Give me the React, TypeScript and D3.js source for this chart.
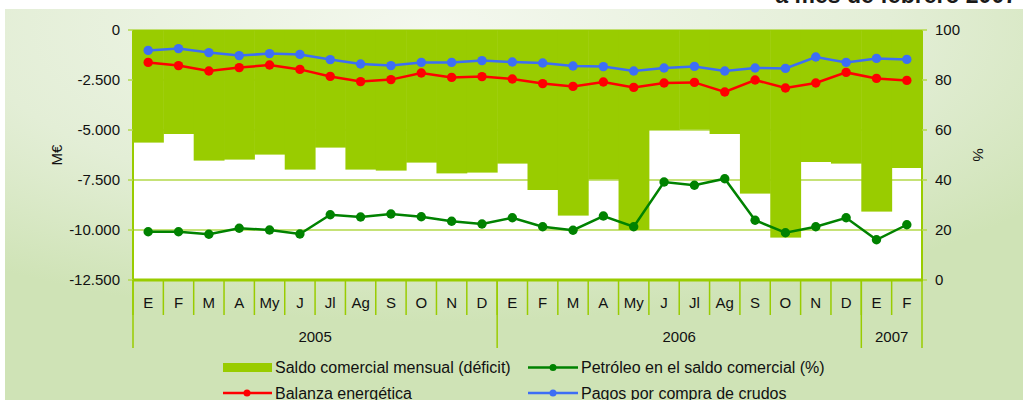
import React from "react";
import * as d3 from "d3";

const months = ["E","F","M","A","My","J","Jl","Ag","S","O","N","D","E","F","M","A","My","J","Jl","Ag","S","O","N","D","E","F"];
const years = [
  { label: "2005", start: 0, end: 12 },
  { label: "2006", start: 12, end: 24 },
  { label: "2007", start: 24, end: 26 },
];
const saldo = [-5630,-5200,-6530,-6480,-6230,-6980,-5880,-6980,-7030,-6630,-7170,-7130,-6680,-8000,-9280,-7470,-10000,-5000,-4980,-5200,-8180,-10380,-6600,-6680,-9080,-6900];
const balanza = [-1620,-1780,-2050,-1880,-1750,-1970,-2320,-2580,-2480,-2150,-2370,-2330,-2450,-2680,-2820,-2600,-2870,-2650,-2620,-3100,-2500,-2900,-2650,-2120,-2420,-2520];
const pagos = [-1020,-930,-1130,-1280,-1180,-1220,-1480,-1700,-1780,-1620,-1620,-1530,-1600,-1650,-1800,-1830,-2050,-1900,-1820,-2050,-1900,-1920,-1350,-1620,-1420,-1470];
const petroleo = [19.3,19.3,18.3,20.7,20,18.4,26.1,25.2,26.4,25.3,23.5,22.4,24.9,21.3,19.9,25.6,21.3,39.2,37.9,40.5,23.9,18.9,21.3,24.9,16.1,22.1];
const leftTicks = [0,-2500,-5000,-7500,-10000,-12500];
const rightTicks = [0,20,40,60,80,100];

const W = 1023, H = 400;
const X0 = 133, X1 = 922, Y0 = 30, Y1 = 280;
const FONT = "'Liberation Sans', Arial, sans-serif";
const BAR = "#99cc00";
const GRID = "#b3d94a";
const AXIS = "#99cc00";

export default function App() {
  const x = d3.scaleBand<number>().domain(months.map((_, i) => i)).range([X0, X1]).paddingInner(0).paddingOuter(0);
  const yL = d3.scaleLinear().domain([-12500, 0]).range([Y1, Y0]);
  const yR = d3.scaleLinear().domain([0, 100]).range([Y1, Y0]);
  const cx = (i: number) => (x(i) as number) + x.bandwidth() / 2;
  const fmt = (v: number) => (v < 0 ? "-" : "") + d3.format(",")(Math.abs(v)).replace(/,/g, ".");

  const lineL = d3.line<number>().x((_, i) => cx(i)).y((d) => yL(d));
  const lineR = d3.line<number>().x((_, i) => cx(i)).y((d) => yR(d));

  const series = [
    { data: balanza, color: "#ff0000", line: lineL, sc: yL },
    { data: pagos, color: "#3d6ef5", line: lineL, sc: yL },
    { data: petroleo, color: "#008200", line: lineR, sc: yR },
  ];

  return (
    <svg width={W} height={H} style={{ position: "absolute", left: 0, top: 0, fontFamily: FONT }}>
      <defs>
        <radialGradient id="bg" cx="0.42" cy="0.05" r="0.75">
          <stop offset="0" stopColor="#f4f8ef" />
          <stop offset="0.6" stopColor="#e3eed6" />
          <stop offset="1" stopColor="#cfe3b6" />
        </radialGradient>
      </defs>
      <rect x={0} y={0} width={W} height={H} fill="#ffffff" />
      <rect x={5} y={9} width={W - 5} height={H - 9} fill="url(#bg)" />
      <text x={1017} y={3} textAnchor="end" fontSize={23} fontWeight="bold" fill="#1a1a1a">a mes de febrero 2007</text>

      {/* plot area */}
      <rect x={X0} y={Y0} width={X1 - X0} height={Y1 - Y0} fill="#ffffff" />
      {leftTicks.filter((t) => t !== -12500).map((t) => (
        <line key={t} x1={X0} x2={X1} y1={yL(t)} y2={yL(t)} stroke={GRID} strokeWidth={1.5} />
      ))}
      {saldo.map((v, i) => (
        <rect key={i} x={x(i)} y={yL(0)} width={x.bandwidth() + 0.5} height={yL(v) - yL(0)} fill={BAR} />
      ))}

      {/* axes */}
      <line x1={X0} x2={X0} y1={Y0} y2={Y1} stroke={AXIS} strokeWidth={2} />
      <line x1={X1} x2={X1} y1={Y0} y2={Y1} stroke={AXIS} strokeWidth={2} />
      {leftTicks.map((t) => (
        <g key={t}>
          <line x1={X0 - 5} x2={X0} y1={yL(t)} y2={yL(t)} stroke={GRID} strokeWidth={1.5} />
          <text x={120} y={yL(t)} dy="0.35em" textAnchor="end" fontSize={15} fill="#111">{fmt(t)}</text>
        </g>
      ))}
      {rightTicks.map((t) => (
        <g key={t}>
          <line x1={X1} x2={X1 + 5} y1={yR(t)} y2={yR(t)} stroke={GRID} strokeWidth={1.5} />
          <text x={935} y={yR(t)} dy="0.35em" textAnchor="start" fontSize={15} fill="#111">{t}</text>
        </g>
      ))}
      <text transform={`translate(62,${(Y0 + Y1) / 2}) rotate(-90)`} textAnchor="middle" fontSize={15} fill="#111">M€</text>
      <text transform={`translate(973,${(Y0 + Y1) / 2}) rotate(90)`} textAnchor="middle" fontSize={15} fill="#111">%</text>

      {/* category axis */}
      {months.map((m, i) => (
        <text key={i} x={cx(i)} y={303} dy="0.35em" textAnchor="middle" fontSize={15} fill="#111">{m}</text>
      ))}
      {months.map((_, i) => (
        <line key={"s" + i} x1={x(i)} x2={x(i)} y1={Y1} y2={315} stroke={AXIS} strokeWidth={1.5} />
      ))}
      {years.map((yr) => (
        <g key={yr.label}>
          <line x1={x(yr.start)} x2={x(yr.start)} y1={Y1} y2={348} stroke={AXIS} strokeWidth={1.5} />
          <text x={((x(yr.start) as number) + ((x(yr.end - 1) as number) + x.bandwidth())) / 2} y={337} dy="0.35em" textAnchor="middle" fontSize={15} fill="#111">{yr.label}</text>
        </g>
      ))}
      <line x1={X1} x2={X1} y1={Y1} y2={348} stroke={AXIS} strokeWidth={1.5} />
      <line x1={X0} x2={X1 + 1} y1={Y1} y2={Y1} stroke={AXIS} strokeWidth={3} />

      {/* lines */}
      {series.map((s, k) => (
        <g key={k}>
          <path d={s.line(s.data) as string} fill="none" stroke={s.color} strokeWidth={2.5} />
          {s.data.map((v, i) => (
            <circle key={i} cx={cx(i)} cy={s.sc(v)} r={4.7} fill={s.color} />
          ))}
        </g>
      ))}

      {/* legend */}
      <rect x={223} y={363} width={49} height={9} fill={BAR} />
      <text x={275} y={367.5} dy="0.35em" fontSize={16} fill="#111">Saldo comercial mensual (déficit)</text>
      <line x1={528} x2={578} y1={367.5} y2={367.5} stroke="#008200" strokeWidth={2.5} />
      <circle cx={553} cy={367.5} r={3.5} fill="#008200" />
      <text x={581} y={367.5} dy="0.35em" fontSize={16} fill="#111">Petróleo en el saldo comercial (%)</text>
      <line x1={223} x2={272} y1={393} y2={393} stroke="#ff0000" strokeWidth={2.5} />
      <circle cx={247} cy={393} r={3.5} fill="#ff0000" />
      <text x={275} y={393} dy="0.35em" fontSize={16} fill="#111">Balanza energética</text>
      <line x1={528} x2={578} y1={393} y2={393} stroke="#3d6ef5" strokeWidth={2.5} />
      <circle cx={553} cy={393} r={3.5} fill="#3d6ef5" />
      <text x={581} y={393} dy="0.35em" fontSize={16} fill="#111">Pagos por compra de crudos</text>
    </svg>
  );
}
